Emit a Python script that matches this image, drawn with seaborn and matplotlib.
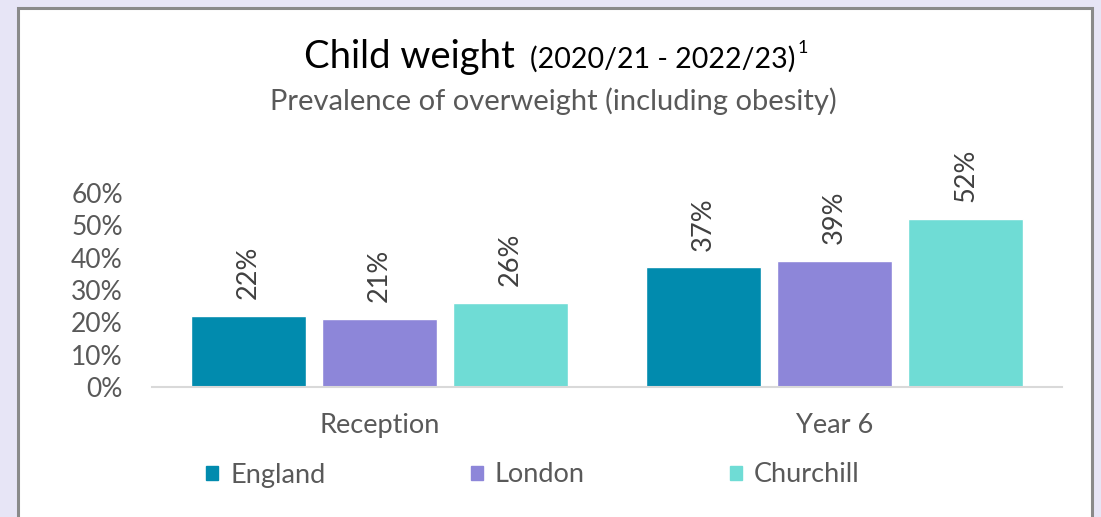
import numpy as np
import pandas as pd
import matplotlib.pyplot as plt
import matplotlib.patches as mpatches
import seaborn as sns

# data
groups = ["Reception", "Year 6"]
areas = ["England", "London", "Churchill"]
england = [0.22, 0.37]
london = [0.21, 0.39]
churchill = [0.26, 0.52]
area_colours = ["#018BAE", "#8D86D9", "#6FDCD5"]

df = pd.DataFrame({
    "Group": groups * 3,
    "Area": np.repeat(areas, 2),
    "Value": england + london + churchill,
})

sns.set_style("white")
plt.rcParams["font.family"] = ["Lato", "DejaVu Sans"]
grey = "#595959"

fig = plt.figure(figsize=(11.01, 5.17), dpi=100)
fig.patch.set_facecolor("#E7E5F6")

# white panel with a grey frame
panel = mpatches.Rectangle((18 / 1101, -0.05), (1092 - 18) / 1101, 1.05 - 8 / 517,
                           transform=fig.transFigure, facecolor="white",
                           edgecolor="#8A8A8A", linewidth=2.2, zorder=-10)
fig.patches.append(panel)

ax = fig.add_axes([152 / 1101, 1 - 387 / 517, (1062 - 152) / 1101, (387 - 193) / 517])
ax.set_facecolor("none")
sns.barplot(data=df, x="Group", y="Value", hue="Area", palette=area_colours,
            width=0.864, gap=0.122, ax=ax, legend=False, saturation=1)

ax.set_ylim(0, 0.6)
ax.set_xlim(-0.5, 1.5)
ax.set_yticks(np.arange(0, 0.61, 0.1))
ax.set_yticklabels([f"{int(round(t * 100))}%" for t in np.arange(0, 0.61, 0.1)])
ax.tick_params(axis="y", length=0, pad=21, labelsize=19, labelcolor=grey)
ax.tick_params(axis="x", length=0, pad=19, labelsize=19.5, labelcolor=grey)
ax.set_xlabel("")
ax.set_ylabel("")
for s in ["top", "right", "left"]:
    ax.spines[s].set_visible(False)
ax.spines["bottom"].set_color("#D9D9D9")
ax.spines["bottom"].set_linewidth(1.5)

for cont in ax.containers:
    for bar in cont:
        h = bar.get_height()
        ax.annotate(f"{int(round(h * 100))}%", (bar.get_x() + bar.get_width() / 2, h),
                    xytext=(0, 12), textcoords="offset points", rotation=90,
                    ha="center", va="bottom", fontsize=19.5, color="#404040")

# title made of three pieces
fig.canvas.draw()
r = fig.canvas.get_renderer()
t1 = fig.text(0, 0, "Child weight", fontsize=27.5, color="black", va="baseline")
t2 = fig.text(0, 0, "(2020/21 - 2022/23)", fontsize=20.5, color="black", va="baseline")
t3 = fig.text(0, 0, "1", fontsize=13, color="black", va="baseline")
w1 = t1.get_window_extent(r).width
w2 = t2.get_window_extent(r).width
w3 = t3.get_window_extent(r).width
gap = 15
x0 = 556 - (w1 + gap + w2 + 2 + w3) / 2
base = 517 - 68
t1.set_position((x0 / 1101, base / 517))
t2.set_position(((x0 + w1 + gap) / 1101, base / 517))
t3.set_position(((x0 + w1 + gap + w2 + 2) / 1101, (base + 15) / 517))

fig.text(553 / 1101, 1 - 101 / 517, "Prevalence of overweight (including obesity)",
         ha="center", va="center", fontsize=21, color=grey)

handles = [mpatches.Patch(color=c, label=a) for a, c in zip(areas, area_colours)]
fig.legend(handles=handles, loc="center", bbox_to_anchor=(533 / 1101, 1 - 475 / 517),
           ncol=3, frameon=False, fontsize=19.5, labelcolor=grey, handlelength=0.45,
           handleheight=0.45, handletextpad=0.45, columnspacing=5.35)

fig.savefig("out.png", dpi=100, facecolor=fig.get_facecolor())
